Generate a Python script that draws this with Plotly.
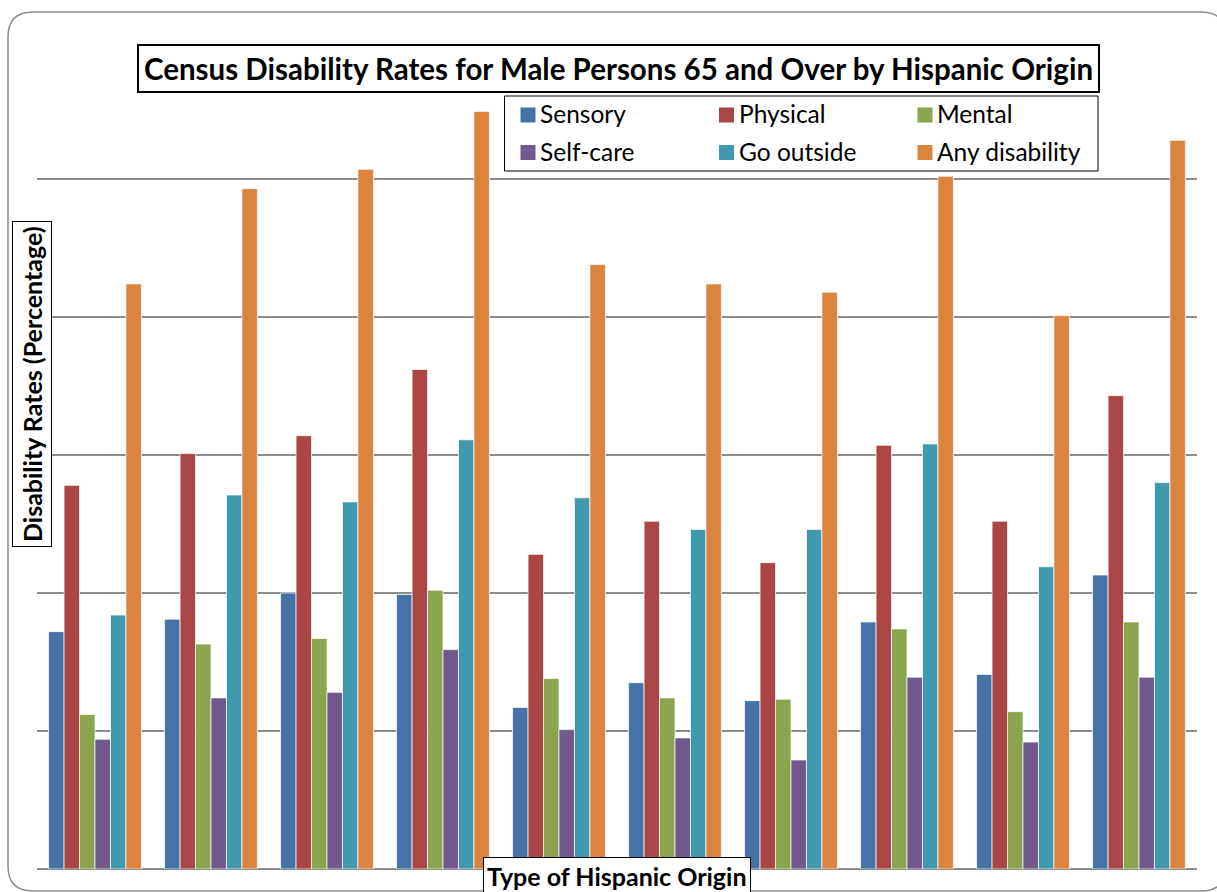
import plotly.graph_objects as go

categories = ["Group 1", "Group 2", "Group 3", "Group 4", "Group 5",
              "Group 6", "Group 7", "Group 8", "Group 9", "Group 10"]
series_names = ["Sensory", "Physical", "Mental", "Self-care", "Go outside", "Any disability"]
sensory = [17.2, 18.1, 20.0, 19.9, 11.7, 13.5, 12.2, 17.9, 14.1, 21.3]
physical = [27.8, 30.1, 31.4, 36.2, 22.8, 25.2, 22.2, 30.7, 25.2, 34.3]
mental = [11.2, 16.3, 16.7, 20.2, 13.8, 12.4, 12.3, 17.4, 11.4, 17.9]
self_care = [9.4, 12.4, 12.8, 15.9, 10.1, 9.5, 7.9, 13.9, 9.2, 13.9]
go_outside = [18.4, 27.1, 26.6, 31.1, 26.9, 24.6, 24.6, 30.8, 21.9, 28.0]
any_disability = [42.4, 49.3, 50.7, 54.9, 43.8, 42.4, 41.8, 50.2, 40.1, 52.8]
colors = ["#4572A7", "#AA4643", "#89A54E", "#71588F", "#4198AF", "#DB843D"]

W, H = 1217, 892
ML, MR, MT, MB = 37, 20, 41, 23
PW, PH = W - ML - MR, H - MT - MB


def px(x):
    return (x - ML) / PW


def py(y):
    return (H - MB - y) / PH


font_family = "Lato, 'Open Sans', sans-serif"

fig = go.Figure()
all_vals = [sensory, physical, mental, self_care, go_outside, any_disability]
for name, vals, col in zip(series_names, all_vals, colors):
    fig.add_trace(go.Bar(x=categories, y=vals, name=name, showlegend=False,
                         marker=dict(color=col, line=dict(color="rgba(255,255,255,0.7)", width=1))))

# rounded frame
L, R, T, B, r = 8, 1226, 12, 891, 25
path = (f"M {px(L+r)},{py(T)} L {px(R-r)},{py(T)} Q {px(R)},{py(T)} {px(R)},{py(T+r)} "
        f"L {px(R)},{py(B-r)} Q {px(R)},{py(B)} {px(R-r)},{py(B)} "
        f"L {px(L+r)},{py(B)} Q {px(L)},{py(B)} {px(L)},{py(B-r)} "
        f"L {px(L)},{py(T+r)} Q {px(L)},{py(T)} {px(L+r)},{py(T)} Z")
fig.add_shape(type="path", path=path, xref="paper", yref="paper",
              line=dict(color="#8c8c8c", width=1.5), layer="below")

# legend box (manual, 3 columns x 2 rows)
fig.add_shape(type="rect", xref="paper", yref="paper",
              x0=px(504.5), x1=px(1098), y0=py(96), y1=py(171),
              line=dict(color="black", width=1), fillcolor="white", layer="above")
for i, (name, col) in enumerate(zip(series_names, colors)):
    row, c = divmod(i, 3)
    sx = 520.5 + c * 198.5
    sy = 107.5 + row * 37.5
    fig.add_shape(type="rect", xref="paper", yref="paper",
                  x0=px(sx), x1=px(sx + 15), y0=py(sy), y1=py(sy + 15),
                  line=dict(width=0), fillcolor=col, layer="above")
    fig.add_annotation(text=name, x=px(sx + 17.5), y=py(sy + 6.5), xref="paper", yref="paper",
                       showarrow=False, xanchor="left", yanchor="middle",
                       font=dict(size=24.5, color="black", family=font_family))

fig.add_annotation(text="<b>Census Disability Rates for Male Persons 65 and Over by Hispanic Origin</b>",
                   x=px(619), y=py(68.5), xref="paper", yref="paper", showarrow=False,
                   xanchor="center", yanchor="middle",
                   font=dict(size=29.5, color="black", family=font_family),
                   bordercolor="black", borderwidth=2, borderpad=5, bgcolor="white")
fig.add_annotation(text="<b>Disability Rates (Percentage)</b>",
                   x=px(32.5), y=py(384.5), xref="paper", yref="paper", showarrow=False,
                   textangle=-90, xanchor="center", yanchor="middle",
                   font=dict(size=25, color="black", family=font_family),
                   bordercolor="black", borderwidth=1, borderpad=4, bgcolor="white")
fig.add_annotation(text="<b>Type of Hispanic Origin</b>",
                   x=px(616.5), y=py(857), xref="paper", yref="paper", showarrow=False,
                   xanchor="center", yanchor="top",
                   font=dict(size=25, color="black", family=font_family),
                   bordercolor="black", borderwidth=1, borderpad=3, bgcolor="white")

fig.update_layout(
    width=W, height=H,
    margin=dict(l=ML, r=MR, t=MT, b=MB),
    paper_bgcolor="white", plot_bgcolor="white",
    barmode="group", bargap=0.2, bargroupgap=0,
    font=dict(family=font_family, color="black"),
    showlegend=False,
    xaxis=dict(showticklabels=False, showgrid=False, showline=False, ticks=""),
    yaxis=dict(range=[0, 60], dtick=10, showticklabels=False, showgrid=True,
               gridcolor="#8c8c8c", gridwidth=2, zeroline=True, zerolinecolor="#8c8c8c",
               zerolinewidth=2, ticks=""),
)

fig.write_html("out.html")
